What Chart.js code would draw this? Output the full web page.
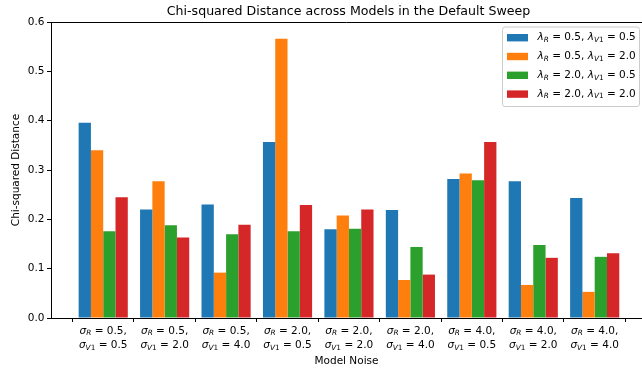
<!DOCTYPE html>
<html>
<head>
<meta charset="utf-8">
<script src="https://cdn.jsdelivr.net/npm/chart.js@4.4.1/dist/chart.umd.min.js"></script>
<style>
  html, body { margin: 0; padding: 0; background: #fff; overflow: hidden; }
  #wrap { position: relative; width: 642px; height: 368px; }
</style>
</head>
<body>
<div id="wrap"><canvas id="chart"></canvas></div>
<script>
// Model noise settings (one group per setting)
const sigmaR  = ['0.5', '0.5', '0.5', '2.0', '2.0', '2.0', '4.0', '4.0', '4.0'];
const sigmaV1 = ['0.5', '2.0', '4.0', '0.5', '2.0', '4.0', '0.5', '2.0', '4.0'];

// Regularisation settings (one series per setting)
const lambdaR  = ['0.5', '0.5', '2.0', '2.0'];
const lambdaV1 = ['0.5', '2.0', '0.5', '2.0'];

// Chi-squared distance per noise setting, one array per series
const chiR05V05 = [0.396, 0.220, 0.230, 0.357, 0.180, 0.219, 0.282, 0.277, 0.243];
const chiR05V20 = [0.340, 0.277, 0.092, 0.566, 0.208, 0.077, 0.293, 0.067, 0.053];
const chiR20V05 = [0.176, 0.188, 0.170, 0.176, 0.181, 0.144, 0.279, 0.148, 0.124];
const chiR20V20 = [0.245, 0.163, 0.189, 0.229, 0.220, 0.088, 0.357, 0.122, 0.131];

const yTicks = [0, 0.1, 0.2, 0.3, 0.4, 0.5, 0.6];

const seriesValues = [chiR05V05, chiR05V20, chiR20V05, chiR20V20];
const colors = ['#1f77b4', '#ff7f0e', '#2ca02c', '#d62728'];
const FONT = '"DejaVu Sans", sans-serif';
const FS = 10.5;

// Draw a run of text pieces, some italic and/or subscripted (mathtext style)
function drawRich(ctx, segs, x, y, align, size) {
  const parts = segs.map(s => {
    const fs = s.sub ? size * 0.7 : size;
    const font = (s.it ? 'italic ' : '') + fs + 'px ' + FONT;
    ctx.font = font;
    return { t: s.t, font, w: ctx.measureText(s.t).width, dy: s.sub ? size * 0.22 : 0 };
  });
  const total = parts.reduce((a, p) => a + p.w, 0);
  let cx = align === 'center' ? x - total / 2 : x;
  ctx.textAlign = 'left';
  ctx.textBaseline = 'middle';
  ctx.fillStyle = '#000';
  parts.forEach(p => {
    ctx.font = p.font;
    ctx.fillText(p.t, cx, y + p.dy);
    cx += p.w;
  });
}

function noiseLines(i) {
  return [
    [{ t: 'σ', it: 1 }, { t: 'R', it: 1, sub: 1 }, { t: ' = ' + sigmaR[i] + ',' }],
    [{ t: 'σ', it: 1 }, { t: 'V', it: 1, sub: 1 }, { t: '1', sub: 1 }, { t: ' = ' + sigmaV1[i] }]
  ];
}

function lambdaLabel(k) {
  return [
    { t: 'λ', it: 1 }, { t: 'R', it: 1, sub: 1 }, { t: ' = ' + lambdaR[k] + ', ' },
    { t: 'λ', it: 1 }, { t: 'V', it: 1, sub: 1 }, { t: '1', sub: 1 }, { t: ' = ' + lambdaV1[k] }
  ];
}

const datasets = seriesValues.map((vals, k) => ({
  label: 'λR = ' + lambdaR[k] + ', λV1 = ' + lambdaV1[k],
  data: vals.map((v, i) => ({ x: i, y: v })),
  backgroundColor: colors[k],
  borderWidth: 0,
  categoryPercentage: 0.8,
  barPercentage: 1.0
}));

// Title, top spine, x tick labels and legend box
const decor = {
  id: 'decor',
  afterDraw(chart) {
    const ctx = chart.ctx;
    const area = chart.chartArea;
    const xs = chart.scales.x;
    ctx.save();
    // top spine
    ctx.strokeStyle = '#000';
    ctx.lineWidth = 1;
    ctx.beginPath();
    ctx.moveTo(area.left, area.top + 0.5);
    ctx.lineTo(area.right, area.top + 0.5);
    ctx.stroke();
    // title
    ctx.font = '12.6px ' + FONT;
    ctx.fillStyle = '#000';
    ctx.textAlign = 'center';
    ctx.textBaseline = 'middle';
    ctx.fillText('Chi-squared Distance across Models in the Default Sweep', 348.5, 12);
    // x tick labels
    sigmaR.forEach((_, i) => {
      const px = xs.getPixelForValue(i);
      const lines = noiseLines(i);
      drawRich(ctx, lines[0], px, area.bottom + 13, 'center', FS);
      drawRich(ctx, lines[1], px, area.bottom + 27.7, 'center', FS);
    });
    // legend
    const lx = 502, ly = 26.5, lw = 137, lh = 79.5;
    ctx.beginPath();
    ctx.roundRect(lx + 0.5, ly + 0.5, lw, lh, 2.5);
    ctx.fillStyle = 'rgba(255,255,255,0.8)';
    ctx.fill();
    ctx.strokeStyle = '#cccccc';
    ctx.stroke();
    lambdaR.forEach((_, k) => {
      const ry = 37.7 + k * 18.8;
      ctx.fillStyle = colors[k];
      ctx.fillRect(507, ry - 3.7, 21, 7.4);
      drawRich(ctx, lambdaLabel(k), 537.5, ry, 'left', FS);
    });
    ctx.restore();
  }
};

new Chart(document.getElementById('chart'), {
  type: 'bar',
  data: { datasets },
  options: {
    responsive: true,
    maintainAspectRatio: false,
    animation: false,
    layout: { padding: { top: 22, right: 0, left: 0, bottom: 0 } },
    plugins: { legend: { display: false }, tooltip: { enabled: false }, title: { display: false } },
    scales: {
      x: {
        type: 'linear',
        offset: false,
        min: -0.85,
        max: 8.77,
        afterBuildTicks: s => { s.ticks = sigmaR.map((_, i) => ({ value: i })); },
        afterFit: s => { s.height = 50; },
        ticks: { display: false },
        grid: { drawOnChartArea: false, drawTicks: true, tickLength: 4, tickColor: '#000' },
        border: { display: true, color: '#000', width: 1 },
        title: {
          display: true, text: 'Model Noise', color: '#000',
          font: { family: FONT, size: FS }, padding: { top: 0, bottom: 0 }
        }
      },
      y: {
        min: 0,
        max: 0.6,
        afterBuildTicks: s => { s.ticks = yTicks.map(v => ({ value: v })); },
        afterFit: s => { s.width = 51; },
        ticks: {
          color: '#000', padding: 2.5,
          font: { family: FONT, size: FS },
          callback: v => Number(v).toFixed(1)
        },
        grid: { drawOnChartArea: false, drawTicks: true, tickLength: 4, tickColor: '#000' },
        border: { display: true, color: '#000', width: 1 },
        title: {
          display: true, text: 'Chi-squared Distance', color: '#000',
          font: { family: FONT, size: FS }, padding: { top: 9.5, bottom: 0 }
        }
      }
    }
  },
  plugins: [decor]
});
</script>
</body>
</html>
